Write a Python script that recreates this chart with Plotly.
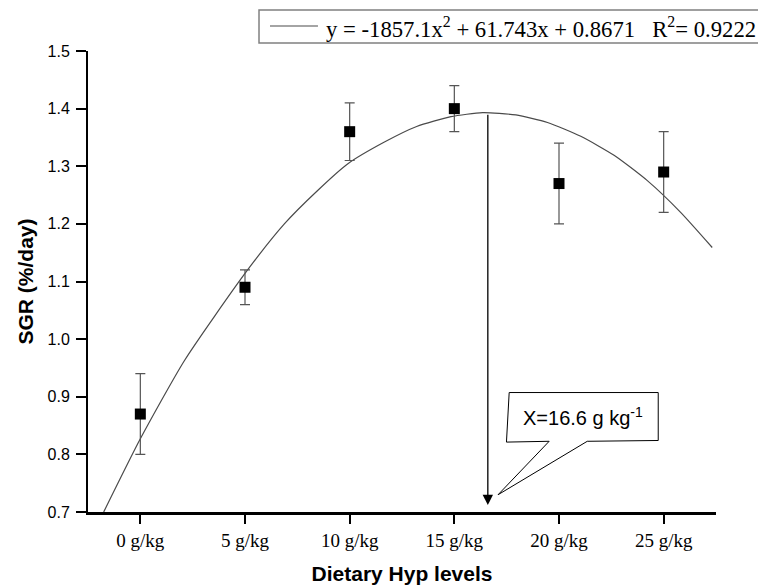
import plotly.graph_objects as go

# Data
levels = [0, 5, 10, 15, 20, 25]
tick_labels = ["0 g/kg", "5 g/kg", "10 g/kg", "15 g/kg", "20 g/kg", "25 g/kg"]
sgr = [0.87, 1.09, 1.36, 1.40, 1.27, 1.29]
sgr_err = [0.07, 0.03, 0.05, 0.04, 0.07, 0.07]

# Fitted curve as drawn in the reference
curve_x = [-1.75, 0, 2.11, 5, 6.88, 8.47, 9.9, 11.66, 13.2, 14.84, 16.35,
           17.94, 19.45, 21.04, 22.63, 24.22, 25.81, 27.32]
curve_y = [0.70, 0.827, 0.963, 1.114, 1.20, 1.258, 1.304, 1.342, 1.369, 1.386,
           1.393, 1.389, 1.376, 1.352, 1.319, 1.275, 1.220, 1.159]

optimum_x = 16.6
optimum_top = 1.392
optimum_tip = 0.712

legend_text = "y = -1857.1x<sup>2</sup> + 61.743x + 0.8671   R<sup>2</sup>= 0.9222"
callout_text = "X=16.6 g kg<sup>-1</sup>"

SERIF = "Liberation Serif, Times New Roman, serif"
SANS = "Liberation Sans, Arial, sans-serif"

fig = go.Figure()

fig.add_trace(go.Scatter(
    x=curve_x, y=curve_y, mode="lines",
    line=dict(color="#4a4a4a", width=1.2, shape="spline", smoothing=0.6),
    name="fit", showlegend=False, hoverinfo="skip",
))

fig.add_trace(go.Scatter(
    x=levels, y=sgr, mode="markers",
    marker=dict(symbol="square", size=11, color="black"),
    error_y=dict(type="data", array=sgr_err, visible=True,
                 color="#555555", thickness=1.2, width=5),
    showlegend=False, name="SGR",
))

# Callout balloon (in data coordinates)
callout_path = ("M 17.62 0.9073 L 24.74 0.9073 L 24.74 0.8241 L 21.35 0.8227 "
                "L 17.09 0.730 L 19.53 0.8227 L 17.49 0.8213 Z")

fig.update_layout(
    width=758, height=577,
    margin=dict(l=80, r=50, t=43, b=73, pad=0, autoexpand=False),
    paper_bgcolor="white", plot_bgcolor="white",
    showlegend=False,
    xaxis=dict(
        range=[-2.5, 27.5], tickvals=levels, ticktext=tick_labels,
        showline=True, linecolor="black", linewidth=2.5,
        ticks="outside", ticklen=9, tickwidth=1.5, tickcolor="black",
        showgrid=False, zeroline=False, automargin=False,
        tickfont=dict(family=SERIF, size=19, color="black"),
        title=dict(text="<b>Dietary Hyp levels</b>", standoff=19,
                   font=dict(family=SANS, size=21, color="black")),
    ),
    yaxis=dict(
        range=[0.7, 1.5], dtick=0.1, tick0=0.7, tickformat=".1f",
        showline=True, linecolor="black", linewidth=2,
        ticks="outside", ticklen=10, tickwidth=1.5, tickcolor="black",
        ticklabelstandoff=3,
        showgrid=False, zeroline=False, automargin=False,
        tickfont=dict(family=SANS, size=16, color="black"),
        title=dict(text="<b>SGR (%/day)</b>", standoff=8,
                   font=dict(family=SANS, size=21, color="black")),
    ),
    shapes=[
        dict(type="path", path=callout_path, xref="x", yref="y",
             line=dict(color="black", width=1), fillcolor="white", layer="above"),
        # legend box
        dict(type="rect", xref="paper", yref="paper",
             x0=0.2723, x1=1.0748, y0=1.0174, y1=1.0889,
             line=dict(color="#808080", width=1.5), fillcolor="white"),
        dict(type="line", xref="paper", yref="paper",
             x0=0.2898, x1=0.3662, y0=1.0542, y1=1.0542,
             line=dict(color="#4a4a4a", width=1.2)),
    ],
    annotations=[
        dict(x=optimum_x, y=optimum_tip, ax=optimum_x, ay=optimum_top,
             xref="x", yref="y", axref="x", ayref="y", text="",
             showarrow=True, arrowhead=2, arrowsize=1.6, arrowwidth=1.3,
             arrowcolor="black"),
        dict(x=21.15, y=0.865, xref="x", yref="y", text=callout_text,
             showarrow=False, font=dict(family=SANS, size=20, color="black"),
             xanchor="center", yanchor="middle"),
        dict(x=0.3758, y=1.052, xref="paper", yref="paper", text=legend_text,
             showarrow=False, font=dict(family=SERIF, size=22.7, color="black"),
             xanchor="left", yanchor="middle"),
    ],
)

fig.write_html("out.html")
